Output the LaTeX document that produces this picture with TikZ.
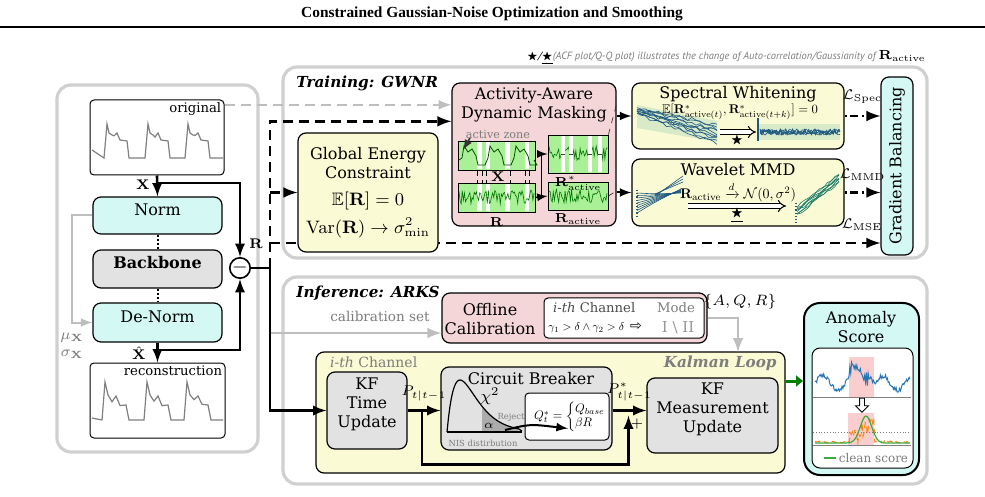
\documentclass[tikz,border=0pt]{standalone}
\usepackage{fix-cm}
\usepackage{amsmath}
\usepackage{amsfonts}
\usepackage{amssymb}
\usepackage{graphicx}
\usepackage[no-math]{fontspec}
\setmainfont{DejaVu Serif}
\newfontfamily\titlefont{Liberation Serif}
\newfontfamily\notefont{PT Sans}
\newfontfamily\arrowfont{DejaVu Sans}
\usepackage{tikz}
\usetikzlibrary{arrows,arrows.meta,calc,positioning,fit,shapes.arrows}
\pgfdeclarelayer{background}
\pgfdeclarelayer{foreground}
\pgfsetlayers{background,main,foreground}

\definecolor{normcyan}{RGB}{212,248,244}
\definecolor{energyyellow}{RGB}{250,250,212}
\definecolor{maskpink}{RGB}{244,214,216}
\definecolor{kfgray}{RGB}{226,226,226}
\definecolor{panelgray}{RGB}{208,208,208}
\definecolor{calgray}{RGB}{190,190,190}
\definecolor{textgray}{RGB}{125,125,125}
\definecolor{bandgreen}{RGB}{170,240,150}
\definecolor{paleband}{RGB}{216,234,200}
\definecolor{acfteal}{RGB}{28,88,128}
\definecolor{sigblue}{RGB}{38,118,182}
\definecolor{scoreorange}{RGB}{255,135,20}
\definecolor{scoregreen}{RGB}{60,170,60}
\definecolor{hipink}{RGB}{250,206,206}

\tikzset{
  panel/.style={draw=panelgray, line width=1.6pt, rounded corners=7pt, inner sep=0pt},
  blk/.style={draw, line width=0.6pt, rounded corners=4pt, inner sep=0pt, align=center},
  plotbox/.style={draw, line width=0.5pt, rounded corners=2pt, inner sep=0pt, fill=white},
  band/.style={draw, line width=0.4pt, inner sep=0pt, fill=bandgreen},
  big/.style={font=\fontsize{8}{9.5}\selectfont},
  mid/.style={font=\fontsize{6.6}{7.8}\selectfont},
  small/.style={font=\fontsize{5.6}{6.5}\selectfont},
  tiny/.style={font=\fontsize{4.2}{5}\selectfont},
  paneltitle/.style={font=\bfseries\itshape\fontsize{7.6}{9}\selectfont, inner sep=0pt},
  sigline/.style={line width=0.6pt, gray},
  noise/.style={line width=0.3pt, green!45!black},
  rloop/.style={line width=1.3pt},
  trainline/.style={line width=1.4pt, dash pattern=on 5pt off 3pt},
  lossline/.style={line width=1.4pt, dash pattern=on 1.2pt off 1.5pt on 4pt off 2pt},
  calline/.style={draw=calgray, line width=1.4pt},
  graydash/.style={draw=calgray, line width=1.2pt, dash pattern=on 5pt off 3pt},
  hollow/.style={double, double distance=1.6pt, line width=0.5pt, -implies},
}

\begin{document}
\begin{tikzpicture}[x=0.5pt,y=-0.5pt,>=latex]
\useasboundingbox (0,0) rectangle (985,497);
\pgfmathsetseed{42}

% header
\node[font=\titlefont\bfseries\fontsize{7.7}{9}\selectfont] (title) at (492,14) {Constrained Gaussian-Noise Optimization and Smoothing};
\draw[line width=1pt] (0,27) -- (985,27);
\node[anchor=east, inner sep=0pt, font=\notefont\itshape\fontsize{5.25}{6.5}\selectfont, text=textgray] (legend) at (926,57)
  {\textcolor{black}{$\bigstar$/\underline{$\bigstar$}}(ACF plot/Q-Q plot) illustrates the change of Auto-correlation/Gaussianity of \textcolor{black}{\fontsize{6.6}{7}\selectfont$\mathbf{R}_{\mathrm{active}}$}};

% panels
\node[panel, fit={(57,85) (258,452)}] (ae) {};
\node[panel, fit={(283,67) (927,258)}] (train) {};
\node[panel, fit={(283,277) (927,484)}] (infer) {};
\node[paneltitle, anchor=west] at (296,83) {Training: GWNR};
\node[paneltitle, anchor=west] at (296,293) {Inference: ARKS};

% autoencoder side
\node[plotbox, fit={(90,100) (224,175)}] (orig) {};
\node[mid, anchor=north east, inner sep=1.5pt] at (orig.north east) {original};
\draw[sigline] (92,150) foreach \s in {104,145,185} { -- (\s,158) -- (\s+3,124) -- (\s+5,133) -- (\s+8,135) -- (\s+10,{137+2*rand}) -- (\s+13,133) -- (\s+16,140) -- (\s+23,141) -- (\s+25,158) } -- (223,158);
\node[blk, fill=normcyan, big, fit={(93,197) (222,234)}] (norm) {Norm};
\node[blk, fill=kfgray, big, fit={(93,250) (222,288)}] (backbone) {\textbf{Backbone}};
\node[blk, fill=normcyan, big, fit={(93,303) (222,342)}] (denorm) {De-Norm};
\node[plotbox, fit={(90,363) (225,438)}] (recon) {};
\node[mid, anchor=north east, inner sep=1.5pt] at (recon.north east) {reconstruction};
\draw[sigline] (92,418) foreach \s in {102,144,184} { -- (\s,420) -- (\s+3,382) -- (\s+6,395) -- (\s+10,{400+2*rand}) -- (\s+14,396) -- (\s+18,{404+2*rand}) -- (\s+24,405) -- (\s+27,420) } -- (223,420);
\node[circle, draw, line width=0.8pt, inner sep=0pt, minimum size=9pt] (minus) at (240,268) {$-$};

\draw[line width=1pt, densely dotted] (norm) -- (backbone);
\draw[line width=1pt, densely dotted] (backbone) -- (denorm);
\draw[calline, line width=1pt, ->] (norm.west) -- ++(-20,0) |- (denorm.west);
\node[text=textgray, font=\fontsize{7.5}{7.5}\selectfont] (mux) at (72,338) {$\mu_{\mathbf{X}}$};
\node[text=textgray, font=\fontsize{7.5}{7.5}\selectfont, below=-3.5pt of mux] {$\sigma_{\mathbf{X}}$};

% residual loop
\draw[rloop,->] (orig.south) -- (norm.north);
\draw[rloop,->] ($(orig.south)!0.36!(norm.north)$) -| (minus.north);
\draw[rloop,->] (denorm.south) -- (recon.north);
\draw[rloop,->] ($(denorm.south)!0.38!(recon.north)$) -| (minus.south);
\node[font=\fontsize{7}{7}\selectfont] at (143,185) {$\mathbf{X}$};
\node[font=\fontsize{7}{7}\selectfont] at (139,353) {$\hat{\mathbf{X}}$};
\node[font=\fontsize{7}{7}\selectfont] at (256,244) {$\mathbf{R}$};
\coordinate (rjunc) at (270,268);
\draw[rloop] (minus.east) -- (rjunc);

% training boxes
\node[blk, fill=energyyellow, fit={(298,133) (438,252)}] (energy) {};
\node[big, align=center] at (energy.center) {Global Energy\\Constraint\\[4pt]{\fontsize{9}{11}\selectfont$\mathbb{E}[\mathbf{R}]=0$}\\[3pt]{\fontsize{9}{11}\selectfont$\mathrm{Var}(\mathbf{R})\to\sigma^2_{\min}$}};

\node[blk, fill=maskpink, fit={(452,83) (616,226)}] (mask) {};
\node[big, align=center] at (534,105) {Activity-Aware\\Dynamic Masking};
\node[band, fit={(458,141) (535,170)}] (xplot) {};
\node[band, fit={(458,183) (535,212)}] (rplot) {};
\foreach \a/\b in {477/482,486/490,505/510,525/529} {
  \fill[white] (\a,142) rectangle (\b,169);
  \fill[white] (\a,184) rectangle (\b,211);
  \draw[densely dashed, line width=0.3pt] (\a,170) -- (\a,183);
  \draw[densely dashed, line width=0.3pt] (\b,170) -- (\b,183);
}
\draw[line width=0.4pt, green!30!black] (459,160) foreach \s in {462,488,514} { -- (\s,158) -- (\s+2,146) -- (\s+6,152) -- (\s+10,149) -- (\s+14,156) -- (\s+16,165) -- (\s+23,165) } -- (534,160);
\draw[noise] plot[domain=459:534, samples=70] (\x,{197+7*rand});
\node[font=\fontsize{7}{7}\selectfont, fill=maskpink, inner sep=0.5pt] at (498,177) {$\mathbf{X}$};
\node[small, text=textgray] (azone) at (498,134) {active zone};
\draw[->, line width=0.8pt, gray!40!black] (470,138) -- (463,150);
\node[band, fit={(548,135) (608,173)}] (rstar) {};
\draw[noise] plot[domain=549:607, samples=55] (\x,{154+8*rand});
\foreach \a/\b in {561/565,569/573,588/592,598/602} {
  \fill[white] (\a,136) rectangle (\b,172);
  \draw[line width=0.4pt, gray!50!black] (\a,154) -- (\b,154);
}
\node[band, fit={(548,182) (608,210)}] (ract) {};
\draw[noise] plot[domain=549:607, samples=55] (\x,{196+7*rand});
\node[font=\fontsize{6.5}{7}\selectfont, below=-1pt of rplot] {$\mathbf{R}$};
\node[font=\fontsize{6.5}{7}\selectfont, below=-2pt of rstar] {$\mathbf{R}^*_{\mathrm{active}}$};
\node[font=\fontsize{6.5}{7}\selectfont, below=-2pt of ract] {$\mathbf{R}_{\mathrm{active}}$};
\draw[line width=0.8pt,->] (rplot.east) -- ++(6,0) |- (rstar.west);
\draw[line width=0.8pt,->] (rplot.east) -- (ract.west);

\node[blk, fill=energyyellow, fit={(632,83) (844,149)}] (spec) {};
\node[big] at (738,94) {Spectral Whitening};
\fill[paleband] (637,105) -- (717,121) -- (717,142) -- (637,128) -- cycle;
\foreach \k in {0,...,9}
  \draw[acfteal, line width=0.3pt] plot[domain=0:1, samples=20] ({637+80*\x},{107+\k*0.8+(18+\k*1.2)*\x+2*rand});
\fill[paleband] (758,124) rectangle (840,140);
\foreach \k in {0,...,4}
  \draw[acfteal, line width=0.3pt] plot[domain=760:840, samples=60] (\x,{132+3*rand});
\draw[acfteal, line width=0.6pt] (758,118) -- (758,141);
\node[inner sep=0pt] at (740,112) {\resizebox{78pt}{!}{$\mathbb{E}[\mathbf{R}^*_{\mathrm{active}(t)},\mathbf{R}^*_{\mathrm{active}(t+k)}]=0$}};
\draw[hollow] (720,132) -- (756,132);
\node[font=\fontsize{6}{6}\selectfont] at (737,141) {$\bigstar$};

\node[blk, fill=energyyellow, fit={(632,159) (844,226)}] (wave) {};
\node[big] at (738,170) {Wavelet MMD};
\foreach \k in {0,...,8}
  \draw[acfteal, line width=0.3pt] (637,{193+2.5*\k}) .. controls (655,{194+\k}) .. (681,{193-0.5*\k});
\foreach \k in {0,1,2}
  \draw[acfteal, line width=0.3pt] (655,{196-\k}) -- (683,{176+3*\k});
\draw[acfteal, densely dotted, line width=0.6pt] (637,190) -- (637,216);
\foreach \k in {0,...,7}
  \draw[acfteal!80!green, line width=0.3pt] plot[domain=0:1, samples=12] ({797+42*\x},{211-33*\x+1.2*\k-4+1.5*rand});
\draw[acfteal, densely dotted, line width=0.6pt] (796,203) -- (796,223);
\node[inner sep=0pt] at (738,192) {\resizebox{58pt}{!}{$\mathbf{R}_{\mathrm{active}}\xrightarrow{d}\mathcal{N}(0,\sigma^2)$}};
\draw[hollow] (688,206) -- (786,206);
\node[font=\fontsize{6}{6}\selectfont] at (737,215) {\underline{$\bigstar$}};

\draw[line width=0.3pt, dashed, gray!30!black] (rstar.north east) -- ++(8,-30);
\draw[line width=0.3pt, dashed, gray!30!black] (ract.east) -- ++(8,-5);
\draw[line width=1pt,->] (spec.west -| mask.east) -- (spec.west);
\draw[line width=1pt,->] (wave.west -| mask.east) -- (wave.west);

\node[blk, fill=normcyan, fit={(881,77) (913,255)}] (gb) {};
\node[big, rotate=90] at (gb.center) {Gradient Balancing};

\draw[lossline,->] (spec.east) -- (spec.east -| gb.west) node[midway, above=2pt, font=\fontsize{7}{7}\selectfont] {$\mathcal{L}_{\mathrm{Spec}}$};
\draw[lossline,->] (wave.east) -- (wave.east -| gb.west) node[midway, above=2pt, font=\fontsize{7}{7}\selectfont] {$\mathcal{L}_{\mathrm{MMD}}$};

% training links
\coordinate (o1) at ($(orig.north east)!0.07!(orig.south east)$);
\draw[graydash,->] (o1) -- (o1 -| mask.west);
\draw[trainline,->] (rjunc) |- ($(mask.north west)!0.27!(mask.south west)$);
\draw[trainline,->] (rjunc |- energy.west) -- (energy.west);
\coordinate (mse) at (270,243);
\begin{pgfonlayer}{background}
\draw[trainline,->] (mse) -- (mse -| gb.west) node[pos=0.97, above=2pt, font=\fontsize{7}{7}\selectfont] {$\mathcal{L}_{\mathrm{MSE}}$};
\end{pgfonlayer}

% inference
\node[font=\fontsize{6.8}{8}\selectfont, text=textgray] at (380,316) {calibration set};
\node[blk, fill=maskpink, fit={(442,293) (707,343)}] (offline) {};
\node[big, align=center] at (490,319) {Offline\\Calibration};
\node[plotbox, fit={(544,298) (704,338)}] (modebox) {};
\node[mid, anchor=west, text=gray!60!black] at (546,308) {\textit{i-th} Channel};
\node[mid, anchor=east, text=textgray] at (702,308) {Mode};
\node[anchor=west, inner sep=0pt] at (548,328) {\resizebox{38pt}{!}{$\gamma_1>\delta\wedge\gamma_2>\delta$}};
\node[font=\arrowfont\fontsize{7}{7}\selectfont] at (636,327) {⇨};
\node[font=\fontsize{7.5}{8}\selectfont, text=textgray!80] at (678,328) {I \textbackslash\ II};
\node[font=\fontsize{7.5}{8}\selectfont] (aqr) at (740,302) {$\{A,Q,R\}$};
\coordinate (calib) at (270,333);
\draw[calline,->] (calib) -- (calib -| offline.west);

\node[blk, fill=energyyellow, fit={(316,352) (785,473)}] (kalman) {};
\coordinate (drop) at (738,352);
\draw[calline,->] (offline.east) -| (drop);
\node[font=\fontsize{7}{8}\selectfont, text=textgray, anchor=west] at (323,362) {\textit{i-th} Channel};
\node[paneltitle, text=textgray, anchor=east] at (777,363) {Kalman Loop};
\node[blk, fill=kfgray, big, fit={(327,372) (407,449)}] (timeupd) {KF\\Time\\Update};
\node[blk, fill=kfgray, big, fit={(647,378) (778,453)}] (kfm) {KF\\Measurement\\Update};
\draw[rloop,->] (rjunc) |- (timeupd.west);

\node[blk, fill=kfgray, fit={(441,367) (612,450)}] (cb) {};
\node[big] at (531,379) {Circuit Breaker};
\fill[gray!65] plot[domain=5.4:11, samples=30] ({447+6.5*\x},{432-70.65*\x*exp(-\x/2)}) -- (518,432) -- (482,432) -- cycle;
\draw[line width=0.6pt] (447,432) -- (522,432);
\draw[line width=0.6pt] plot[domain=0:11, samples=50] ({447+6.5*\x},{432-70.65*\x*exp(-\x/2)}) -- (522,431);
\node[font=\fontsize{8}{8}\selectfont] at (490,396) {$\chi^2$};
\node[font=\fontsize{6}{6}\selectfont] at (489,426) {$\alpha$};
\node[tiny, text=textgray] at (511,417) {Reject};
\node[tiny, text=textgray] at (483,443) {NIS distirbution};
\node[plotbox, fit={(525,393) (609,440)}] (qbox) {};
\node[inner sep=0pt] (qeq) at ([xshift=1.5pt]qbox.center) {\resizebox{36pt}{!}{$Q^*_t=\left\{\begin{array}{@{}l@{}}Q_{base}\\[-1pt] \beta R\end{array}\right.$}};
\coordinate (tail) at (505,430);
\draw[line width=1pt,->] (tail) .. controls (530,424) .. ([xshift=-1pt,yshift=-6pt]qeq.center);

\draw[rloop,->] (timeupd.east) -- (timeupd.east -| cb.west) node[midway, above=1pt, font=\fontsize{7}{7}\selectfont] {$P_{t|t-1}$};
\draw[rloop,->] (cb.east |- timeupd.east) -- (kfm.west |- timeupd.east) node[midway, above=1pt, font=\fontsize{7}{7}\selectfont] {$P^*_{t|t-1}$};
\coordinate (fbstart) at ($(timeupd.east)!0.44!(cb.west)$);
\coordinate (fbend) at ($(cb.east |- timeupd.east)!0.47!(kfm.west |- timeupd.east)$);
\draw[rloop,->] (fbstart) -- ++(0,55) -| ([yshift=-2.5pt]fbend);
\node[font=\fontsize{7}{7}\selectfont] at (637,424) {$+$};

% anomaly score
\node[blk, fill=normcyan, line width=1pt, rounded corners=8pt, fit={(804,303) (919,475)}] (anomaly) {};
\node[big, align=center] at (861,327) {Anomaly\\Score};
\node[plotbox, rounded corners=4pt, fit={(812,348) (913,468)}] (scorebox) {};
\fill[hipink] (849,357) rectangle (874,397);
\draw[sigblue, line width=0.5pt] plot[domain=815:910, samples=110] (\x,{383-7*sin(12*(\x-815))-2.5*rand-((\x>849)*(\x<874))*(9+7*rand)});
\draw[gray, line width=0.5pt] (813,397) -- (911,397);
\fill[hipink] (848,413) rectangle (874,445);
\draw[textgray, densely dotted, line width=0.4pt] (813,432) -- (911,432);
\draw[gray, line width=0.5pt] (813,445) -- (911,445);
\draw[scoreorange, line width=0.5pt, densely dashed] plot[domain=815:910, samples=90] (\x,{442-1*rand-((\x>850)*(\x<874))*(0.9*(\x-850)+9*rand)});
\draw[scoregreen, line width=0.6pt] plot[domain=815:910, samples=80] (\x,{443-27*exp(-((\x-866)/8)^2)});
\node[single arrow, draw, fill=white, rotate=-90, minimum height=7pt, single arrow head extend=2pt, inner sep=1pt, line width=0.4pt] (downarr) at (862,404) {};
\coordinate (lg) at (824,458);
\draw[scoregreen, line width=0.8pt] (lg) -- ++(12,0) node[right, inner sep=1pt, text=textgray, font=\fontsize{6}{7}\selectfont] {clean score};
\coordinate (garr) at (789,381);
\draw[line width=1.5pt, green!50!black, -{Triangle[length=3.5pt,width=5.5pt]}] (kalman.east |- garr) -- (anomaly.west |- garr);

\end{tikzpicture}
\end{document}
